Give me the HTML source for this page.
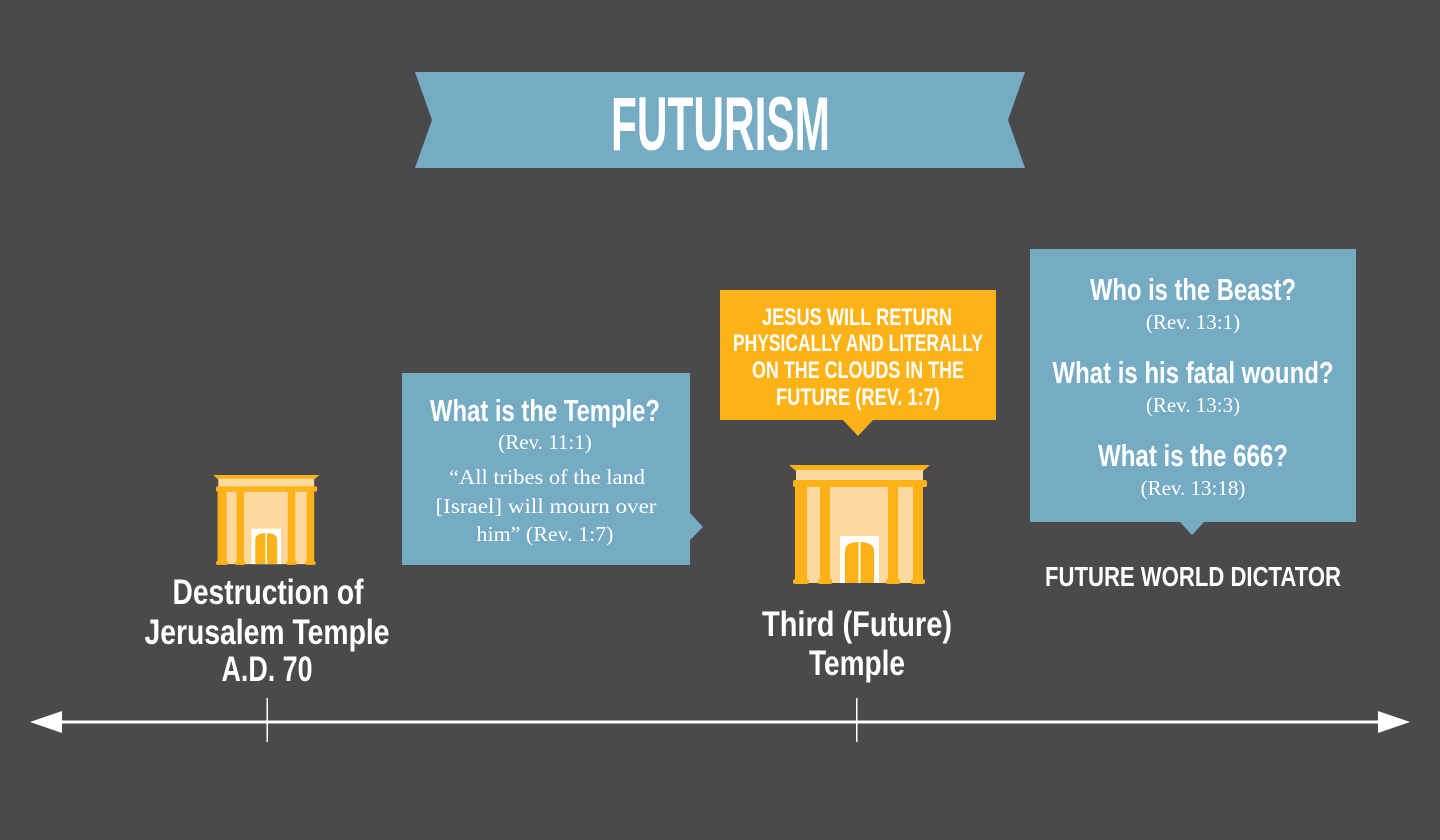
<!DOCTYPE html>
<html><head><meta charset="utf-8"><style>
html,body{margin:0;padding:0;background:#4a4a4c;}
svg{display:block}
.c{font-family:"Liberation Sans Narrow","Liberation Sans",sans-serif;font-weight:bold;fill:#fff}
.s{font-family:"Liberation Serif",serif;fill:#fff}
</style></head><body>
<svg width="1440" height="840" viewBox="0 0 1440 840" xmlns="http://www.w3.org/2000/svg">
<defs>
<g id="tmp">
<polygon points="0,0 141,0 134,6 7,6" fill="#fdb218"/>
<rect x="7" y="5" width="127" height="11" fill="#fed99e"/>
<rect x="4" y="15" width="134" height="7" rx="2" fill="#fdb218"/>
<rect x="16" y="22" width="110" height="96" fill="#fed99e"/>
<rect x="6" y="22" width="12" height="96" fill="#fdb218"/>
<rect x="31" y="22" width="10" height="96" fill="#fdb218"/>
<rect x="99" y="22" width="10" height="96" fill="#fdb218"/>
<rect x="124" y="22" width="10" height="96" fill="#fdb218"/>
<rect x="4" y="114" width="16" height="5" rx="2" fill="#fdb218"/>
<rect x="29" y="114" width="14" height="5" rx="2" fill="#fdb218"/>
<rect x="97" y="114" width="14" height="5" rx="2" fill="#fdb218"/>
<rect x="122" y="114" width="14" height="5" rx="2" fill="#fdb218"/>
<rect x="51" y="71" width="39" height="47" fill="#fff"/>
<path d="M56,118 V86 Q56,77 70,77 Q85,77 85,86 V118 Z" fill="#fdb218"/>
<rect x="69.5" y="77" width="2" height="41" fill="#fff"/>
</g>
</defs>
<rect width="1440" height="840" fill="#4a4a4c"/>
<polygon points="415,72 1025,72 1008,120 1025,168 415,168 432,120" fill="#76abc4"/>
<text class="c" x="611" y="150" font-size="76" textLength="219" lengthAdjust="spacingAndGlyphs">FUTURISM</text>

<!-- left box -->
<polygon points="402,373 690,373 690,513 703,527 690,540 690,565 402,565" fill="#76abc4"/>
<text class="c" x="430" y="421" font-size="31" textLength="230" lengthAdjust="spacingAndGlyphs">What is the Temple?</text>
<text class="s" x="545" y="449" font-size="21" text-anchor="middle">(Rev. 11:1)</text>
<text class="s" x="547" y="484" font-size="21" text-anchor="middle" textLength="196" lengthAdjust="spacingAndGlyphs">“All tribes of the land</text>
<text class="s" x="546" y="513" font-size="21" text-anchor="middle" textLength="221" lengthAdjust="spacingAndGlyphs">[Israel] will mourn over</text>
<text class="s" x="545" y="541" font-size="21" text-anchor="middle" textLength="137" lengthAdjust="spacingAndGlyphs">him” (Rev. 1:7)</text>

<!-- orange box -->
<polygon points="720,290 996,290 996,420 873,420 858,436 843,420 720,420" fill="#fdb218"/>
<text class="c" x="857" y="325" font-size="24" text-anchor="middle" textLength="190" lengthAdjust="spacingAndGlyphs">JESUS WILL RETURN</text>
<text class="c" x="858" y="351" font-size="24" text-anchor="middle" textLength="250" lengthAdjust="spacingAndGlyphs">PHYSICALLY AND LITERALLY</text>
<text class="c" x="858" y="378" font-size="24" text-anchor="middle" textLength="212" lengthAdjust="spacingAndGlyphs">ON THE CLOUDS IN THE</text>
<text class="c" x="858" y="405" font-size="24" text-anchor="middle" textLength="164" lengthAdjust="spacingAndGlyphs">FUTURE (REV. 1:7)</text>

<!-- right box -->
<polygon points="1030,249 1356,249 1356,522 1204,522 1192,535 1180,522 1030,522" fill="#76abc4"/>
<text class="c" x="1193" y="300" font-size="31" text-anchor="middle" textLength="206" lengthAdjust="spacingAndGlyphs">Who is the Beast?</text>
<text class="s" x="1193" y="329" font-size="21" text-anchor="middle">(Rev. 13:1)</text>
<text class="c" x="1193" y="383" font-size="31" text-anchor="middle" textLength="281" lengthAdjust="spacingAndGlyphs">What is his fatal wound?</text>
<text class="s" x="1193" y="412" font-size="21" text-anchor="middle">(Rev. 13:3)</text>
<text class="c" x="1193" y="466" font-size="31" text-anchor="middle" textLength="190" lengthAdjust="spacingAndGlyphs">What is the 666?</text>
<text class="s" x="1193" y="495" font-size="21" text-anchor="middle">(Rev. 13:18)</text>

<!-- temples -->
<g transform="translate(213,475) scale(0.755)"><use href="#tmp"/></g>
<use href="#tmp" x="789" y="465"/>

<!-- labels -->
<text class="c" x="268" y="604" font-size="35" text-anchor="middle" textLength="191" lengthAdjust="spacingAndGlyphs">Destruction of</text>
<text class="c" x="267" y="644" font-size="35" text-anchor="middle" textLength="245" lengthAdjust="spacingAndGlyphs">Jerusalem Temple</text>
<text class="c" x="267" y="681" font-size="35" text-anchor="middle" textLength="91" lengthAdjust="spacingAndGlyphs">A.D. 70</text>
<text class="c" x="857" y="636" font-size="35" text-anchor="middle" textLength="190" lengthAdjust="spacingAndGlyphs">Third (Future)</text>
<text class="c" x="857" y="675" font-size="35" text-anchor="middle" textLength="96" lengthAdjust="spacingAndGlyphs">Temple</text>
<text class="c" x="1193" y="586" font-size="28" text-anchor="middle" textLength="296" lengthAdjust="spacingAndGlyphs">FUTURE WORLD DICTATOR</text>

<!-- axis -->
<rect x="55" y="720.5" width="1330" height="3" fill="#fff"/>
<polygon points="30,722 62,711 62,733" fill="#fff"/>
<polygon points="1410,722 1378,711 1378,733" fill="#fff"/>
<rect x="266.5" y="698" width="1.5" height="44" fill="#fff"/>
<rect x="856" y="698" width="1.5" height="44" fill="#fff"/>
</svg>
</body></html>
